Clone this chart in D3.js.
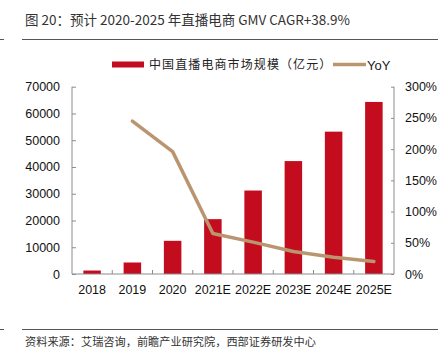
<!DOCTYPE html>
<html><head><meta charset="utf-8">
<script src="https://cdn.jsdelivr.net/npm/d3@7/dist/d3.min.js"></script>
<style>body{margin:0;background:#fff}svg{display:block}</style>
</head><body>
<svg id="c" width="447" height="360"></svg>
<script>
const categories = ["2018","2019","2020","2021E","2022E","2023E","2024E","2025E"];
const gmv = [1300, 4300, 12400, 20500, 31200, 42200, 53200, 64300];
const yoy = [null, 245, 196, 65, 51, 36, 27, 20];
const leftTicks = [0,10000,20000,30000,40000,50000,60000,70000];
const rightTicks = [0,50,100,150,200,250,300];
const title = "图 20：预计 2020-2025 年直播电商 GMV CAGR+38.9%";
const source = "资料来源：艾瑞咨询，前瞻产业研究院，西部证券研发中心";
const legendBar = "中国直播电商市场规模（亿元）";
const legendLine = "YoY";

const svg = d3.select("#c");
const L = 72, R = 394, T = 86.7, B = 274;
const barColor = "#C30D1F", lineColor = "#BA9670", axisColor = "#8c8c8c";
const latin = "'Liberation Sans', Arial, sans-serif";
const cjk = "'Noto Sans CJK SC', sans-serif";

const x = d3.scaleBand().domain(categories).range([L, R]).paddingInner(0.565).paddingOuter(0.2825);
const xb = d3.scaleBand().domain(categories).range([L, R]);
const yL = d3.scaleLinear().domain([0, 70000]).range([B, T]);
const yR = d3.scaleLinear().domain([0, 300]).range([B, T]);

// title
svg.append("text").attr("x", 25).attr("y", 25).attr("font-family", cjk).attr("font-size", 13.5)
  .attr("fill", "#333").text(title);
svg.append("line").attr("x1", 22).attr("x2", 438).attr("y1", 39.5).attr("y2", 39.5).attr("stroke", "#555").attr("stroke-width", 1);
svg.append("line").attr("x1", 0).attr("x2", 4).attr("y1", 39.5).attr("y2", 39.5).attr("stroke", "#555").attr("stroke-width", 1);
svg.append("line").attr("x1", 22).attr("x2", 438).attr("y1", 329.5).attr("y2", 329.5).attr("stroke", "#555").attr("stroke-width", 1);
svg.append("line").attr("x1", 0).attr("x2", 4).attr("y1", 329.5).attr("y2", 329.5).attr("stroke", "#555").attr("stroke-width", 1);
svg.append("text").attr("x", 25).attr("y", 346).attr("font-family", cjk).attr("font-size", 11.2)
  .attr("fill", "#333").text(source);

// legend
svg.append("rect").attr("x", 112).attr("y", 61.5).attr("width", 32).attr("height", 6).attr("fill", barColor);
svg.append("text").attr("x", 149).attr("y", 69).attr("font-family", cjk).attr("font-size", 12)
  .attr("letter-spacing", 1.1).attr("fill", "#222").text(legendBar);
svg.append("line").attr("x1", 333).attr("x2", 366).attr("y1", 64.5).attr("y2", 64.5).attr("stroke", lineColor).attr("stroke-width", 3.5);
svg.append("text").attr("x", 367).attr("y", 69.5).attr("font-family", latin).attr("font-size", 13)
  .attr("fill", "#222").text(legendLine);

// bars
svg.append("g").selectAll("rect").data(categories).join("rect")
  .attr("x", d => x(d)).attr("width", x.bandwidth())
  .attr("y", (d, i) => yL(gmv[i])).attr("height", (d, i) => B - yL(gmv[i]))
  .attr("fill", barColor);

// axes
const gl = svg.append("g").attr("transform", `translate(${L},0)`)
  .call(d3.axisLeft(yL).tickValues(leftTicks).tickSize(-4).tickPadding(12).tickFormat(d3.format("d")));
const gr = svg.append("g").attr("transform", `translate(${R},0)`)
  .call(d3.axisRight(yR).tickValues(rightTicks).tickSize(-3).tickPadding(11).tickFormat(d => d + "%"));
const gx = svg.append("g").attr("transform", `translate(0,${B})`)
  .call(d3.axisBottom(xb).tickSize(0).tickPadding(11));
gx.selectAll(".tick line").remove();
// category boundary ticks
svg.append("g").selectAll("line").data(categories.slice(1)).join("line")
  .attr("x1", d => xb(d)).attr("x2", d => xb(d)).attr("y1", B).attr("y2", B - 4)
  .attr("stroke", axisColor);
[gl, gr, gx].forEach(g => {
  g.selectAll(".domain").attr("stroke", axisColor);
  g.selectAll(".tick line").attr("stroke", axisColor);
  g.selectAll("text").attr("font-family", latin).attr("font-size", 12.5).attr("fill", "#111");
});
gl.select(".domain").attr("d", `M0,${T}V${B}`);
gr.select(".domain").attr("d", `M0,${T}V${B}`);
gx.select(".domain").attr("d", `M${L},0H${R}`);

// line
const pts = categories.map((c, i) => [xb(c) + xb.bandwidth() / 2, yoy[i]]).filter(p => p[1] != null);
svg.append("path").datum(pts)
  .attr("d", d3.line().x(p => p[0]).y(p => yR(p[1])))
  .attr("fill", "none").attr("stroke", lineColor).attr("stroke-width", 3.5)
  .attr("stroke-linejoin", "round").attr("stroke-linecap", "round");
</script>
</body></html>
